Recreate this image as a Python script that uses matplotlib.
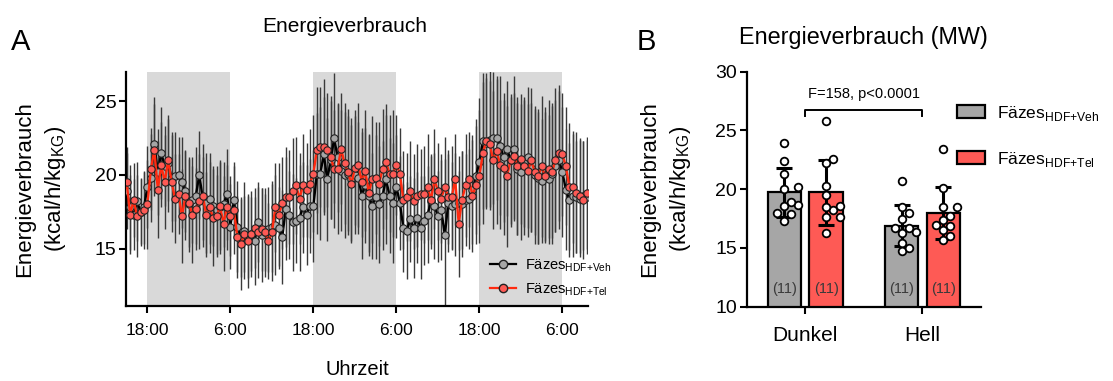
# ------------------------------------ #
# ENERGIEVERBRAUCH - TIME COURSE + MW  #
# ------------------------------------ #

import numpy as np
import matplotlib
matplotlib.use("Agg")
import matplotlib.pyplot as plt
from matplotlib.patches import Patch
from matplotlib.lines import Line2D

plt.rcParams["font.family"] = ["Liberation Sans", "DejaVu Sans"]
plt.rcParams["mathtext.fontset"] = "custom"
plt.rcParams["mathtext.rm"] = "Liberation Sans"

# ---- #
# DATA #
# ---- #

# panel A: sampling grid (hours, 18 = 18:00 of day 1), every 30 min
hours = np.arange(15.0, 82.0, 0.5)

veh_mean = [
    18.9, 17.8, 17.3, 18.2, 17.5, 17.8, 19.2, 19.8, 22.1, 20.2, 21.5, 20.6,
    20.8, 19.8, 19.9, 20.0, 19.5, 18.9, 18.0, 18.3, 18.6, 20.0, 18.4, 18.1,
    18.4, 17.9, 17.6, 17.8, 18.0, 18.7, 16.5, 18.3, 16.5, 15.8, 16.2, 15.8,
    16.0, 15.5, 16.8, 15.9, 16.1, 16.3, 16.5, 16.6, 16.4, 15.8, 17.7, 17.3,
    16.8, 16.9, 17.1, 17.8, 17.3, 17.9, 17.9, 20.1, 20.1, 21.4, 19.7, 21.0,
    22.5, 21.2, 20.3, 20.0, 20.1, 19.7, 20.0, 19.8, 18.6, 19.3, 18.6, 17.9,
    18.5, 18.0, 18.6, 19.7, 18.6, 18.1, 19.2, 18.1, 16.4, 16.2, 17.0, 16.4,
    17.1, 16.4, 16.9, 17.3, 18.2, 17.9, 17.2, 17.6, 15.9, 18.1, 17.9, 18.0,
    18.1, 18.0, 18.3, 18.4, 19.0, 19.9, 20.9, 22.3, 22.2, 22.4, 22.5, 22.5,
    22.0, 21.2, 21.8, 21.0, 21.8, 20.4, 20.2, 20.8, 21.2, 20.5, 20.0, 19.8,
    19.6, 20.0, 19.7, 20.1, 20.6, 21.0, 20.2, 19.0, 18.3, 18.6, 18.5, 18.4,
    18.6, 18.5,
]
veh_sd = [
    2.6, 2.9, 2.4, 2.7, 2.3, 2.5,
    2.8, 3.0, 3.2, 2.9, 3.1, 2.7, 3.3, 2.9, 3.0, 2.6, 3.1, 2.8,
    3.2, 2.9, 3.3, 3.0, 2.8, 3.4, 3.1, 2.7, 3.0, 3.2, 2.9, 3.1,
    2.9, 2.6, 3.1, 2.7, 3.3, 2.8, 2.5, 3.0, 2.7, 3.2, 2.6, 2.9,
    3.1, 3.4, 2.8, 3.2, 3.5, 3.0, 3.3, 2.9, 3.6, 3.1, 3.4, 3.2,
    3.8, 4.1, 4.5, 3.9, 4.2, 4.0, 4.4, 3.7, 4.1, 4.3, 3.9, 4.2,
    4.0, 3.8, 4.3, 3.9, 4.1, 3.6, 4.2, 4.0, 3.7, 4.4, 3.9, 4.1,
    3.5, 3.2, 3.0, 3.3, 2.9, 3.4, 3.1, 3.5, 3.0, 3.3, 3.2, 3.6,
    3.1, 3.4, 5.2, 3.3, 3.0, 3.5, 3.2, 3.6, 3.1, 3.4, 3.7, 3.9,
    4.3, 4.6, 4.4, 4.8, 4.5, 4.2, 4.7, 4.4, 4.6, 4.3, 4.9, 4.5,
    4.6, 4.3, 4.8, 4.4, 4.7, 4.5, 4.2, 4.6, 4.4, 4.8, 4.5, 4.7,
    4.4, 4.1, 3.9, 4.2, 3.8, 4.0, 3.7, 3.9,
]

tel_mean = [
    19.5, 17.3, 18.3, 17.2, 17.5, 17.6, 18.0, 20.4, 21.7, 19.0, 20.7, 19.5,
    21.0, 19.5, 18.4, 18.7, 17.2, 18.6, 18.1, 17.3, 17.7, 18.2, 18.6, 17.3,
    17.8, 17.1, 17.2, 17.9, 16.7, 17.8, 17.2, 17.6, 15.8, 15.3, 16.0, 15.5,
    16.0, 16.4, 16.1, 16.3, 16.1, 15.5, 16.1, 17.8, 17.3, 18.1, 18.5, 18.5,
    18.9, 19.3, 18.4, 19.3, 19.0, 19.4, 20.1, 21.7, 21.9, 21.9, 21.7, 21.2,
    20.4, 20.4, 21.8, 20.8, 20.2, 19.4, 20.5, 20.7, 19.5, 20.3, 18.8, 19.7,
    19.8, 19.4, 20.4, 20.9, 20.1, 20.1, 20.7, 20.1, 18.3, 18.5, 18.9, 18.2,
    18.6, 18.7, 18.7, 19.2, 18.3, 19.7, 18.9, 18.4, 19.2, 18.5, 18.5, 19.7,
    16.7, 18.3, 19.3, 19.7, 18.6, 19.3, 19.9, 21.5, 22.3, 22.1, 21.0, 21.6,
    20.7, 20.5, 19.9, 21.0, 21.3, 20.6, 21.1, 20.6, 20.3, 21.0, 20.2, 19.9,
    20.6, 19.9, 20.4, 20.2, 21.0, 21.5, 21.4, 20.6, 19.2, 19.2, 18.8, 18.6,
    18.3, 18.8,
]
tel_sd = [
    2.4, 2.7, 2.5, 2.8, 2.2, 2.6,
    3.0, 2.8, 3.1, 3.3, 2.9, 3.2, 2.8, 3.4, 3.0, 2.7, 3.2, 3.0,
    3.0, 3.3, 2.8, 3.2, 3.5, 2.9, 3.1, 3.3, 2.8, 3.0, 3.2, 2.9,
    2.7, 3.0, 2.8, 3.1, 2.6, 3.2, 2.9, 2.7, 3.1, 2.8, 3.0, 2.6,
    3.3, 3.0, 3.5, 3.1, 3.4, 3.2, 3.6, 3.3, 3.1, 3.5, 3.2, 3.7,
    4.0, 4.3, 4.1, 4.6, 3.9, 4.2, 4.0, 4.4, 3.8, 4.1, 4.3, 4.0,
    3.9, 4.2, 3.7, 4.1, 4.0, 4.3, 3.8, 4.2, 4.1, 3.9, 4.0, 4.3,
    3.4, 3.1, 3.3, 3.0, 3.4, 3.2, 3.5, 3.1, 3.3, 3.6, 3.0, 3.4,
    3.3, 3.0, 3.4, 3.2, 3.5, 3.1, 3.6, 3.3, 3.5, 3.2, 3.8, 4.0,
    4.5, 4.8, 4.6, 4.3, 4.7, 4.9, 4.4, 4.6, 4.8, 4.5, 4.3, 4.7,
    4.4, 4.7, 4.5, 4.9, 4.3, 4.6, 4.8, 4.4, 4.7, 4.5, 4.9, 4.6,
    4.2, 4.0, 4.3, 3.8, 4.1, 3.9, 4.0, 3.8,
]

dark_phases = [(18, 30), (42, 54), (66, 78)]
time_ticks = [18, 30, 42, 54, 66, 78]
time_labels = ["18:00", "6:00", "18:00", "6:00", "18:00", "6:00"]

# panel B: individual animals, mean energy expenditure
phases = ["Dunkel", "Hell"]
veh_points = [
    [23.9, 22.4, 21.3, 20.0, 20.2, 18.65, 18.6, 18.95, 17.9, 17.3, 17.95],
    [20.7, 18.5, 18.0, 17.45, 16.7, 16.3, 16.7, 15.45, 14.7, 15.0, 16.4],
]
tel_points = [
    [25.8, 22.55, 22.2, 20.3, 19.5, 18.2, 18.6, 18.5, 17.65, 17.65, 16.25],
    [23.4, 20.1, 18.5, 18.5, 17.75, 17.4, 16.95, 16.9, 16.5, 15.7, 16.0],
]
stat_text = "F=158, p<0.0001"

# "{+}" keeps mathtext from adding operator spacing
series_names = ["Fäzes$_{\\mathregular{HDF{+}Veh}}$", "Fäzes$_{\\mathregular{HDF{+}Tel}}$"]
ylab = "Energieverbrauch\n(kcal/h/kg$_{\\mathregular{KG}}$)"

GRAY = "#a6a6a6"
RED = "#fe5a55"
RED_LINE = "#ff2a10"


# --------- #
# FUNCTIONS #
# --------- #

def style_axis(ax):
    for s in ["top", "right"]:
        ax.spines[s].set_visible(False)
    for s in ["left", "bottom"]:
        ax.spines[s].set_linewidth(1.6)
    ax.tick_params(width=1.5, length=5, labelsize=14, pad=2)


def swarm_offsets(ax, xc, values, step_px=7.0, min_px=7.5):
    # simple beeswarm: place each point as close to centre as possible
    trans = ax.transData
    placed = []
    offs = np.zeros(len(values))
    px_per_x = trans.transform((1, 0))[0] - trans.transform((0, 0))[0]
    order = np.argsort(values)
    for i in order:
        yp = trans.transform((xc, values[i]))[1]
        for k in [0, 1, -1, 2, -2, 3, -3]:
            xp = k * step_px
            if all(np.hypot(xp - a, yp - b) >= min_px for a, b in placed):
                break
        placed.append((xp, yp))
        offs[i] = xp / px_per_x
    return offs


# ------ #
# FIGURE #
# ------ #

fig = plt.figure(figsize=(11.13, 3.81), dpi=100)

# --- panel A --- #
axA = fig.add_axes([0.1132, 0.1969, 0.4151, 0.6142])

for a, b in dark_phases:
    axA.axvspan(a, b, color="#d9d9d9", lw=0, zorder=0)

axA.errorbar(hours, veh_mean, yerr=veh_sd, fmt="none", ecolor="#3a3a3a",
             elinewidth=1.0, capsize=0, zorder=1)
axA.errorbar(hours, tel_mean, yerr=tel_sd, fmt="none", ecolor="#3a3a3a",
             elinewidth=1.0, capsize=0, zorder=1)
axA.plot(hours, veh_mean, color="black", lw=1.7, marker="o", ms=5.3,
         mfc=GRAY, mec="#222222", mew=0.8, zorder=3)
axA.plot(hours, tel_mean, color=RED_LINE, lw=1.7, marker="o", ms=5.3,
         mfc=RED, mec="#222222", mew=0.8, zorder=4)

axA.set_xlim(14.9, 81.7)
axA.set_ylim(11.1, 27.0)
axA.set_yticks([15, 20, 25])
axA.set_xticks(time_ticks)
axA.set_xticklabels(time_labels)
style_axis(axA)
axA.tick_params(axis="x", labelsize=12.5, pad=7)
axA.set_xlabel("Uhrzeit", fontsize=14.5, labelpad=16)
axA.set_ylabel(ylab, fontsize=16, linespacing=1.45, labelpad=19)
axA.set_title("Energieverbrauch", fontsize=15, pad=29, x=0.474)

handlesA = [
    Line2D([], [], color="black", lw=1.6, marker="o", ms=6, mfc=GRAY, mec="#222222"),
    Line2D([], [], color=RED_LINE, lw=1.6, marker="o", ms=6, mfc=RED, mec="#222222"),
]
axA.legend(handlesA, series_names, loc="lower right", bbox_to_anchor=(1.08, -0.02),
           frameon=False, fontsize=10.5, handlelength=1.8, handletextpad=0.6,
           labelspacing=0.45)

fig.text(0.010, 0.89, "A", fontsize=21, ha="left", va="center")

# --- panel B --- #
axB = fig.add_axes([0.6709, 0.195, 0.2105, 0.6168])
axB.set_xlim(-0.5, 1.5)
axB.set_ylim(10, 30)

x = np.arange(len(phases))
bw = 0.285
off = 0.178

for vals, xs, col in [(veh_points, x - off, GRAY), (tel_points, x + off, RED)]:
    means = [np.mean(v) for v in vals]
    sds = [np.std(v, ddof=1) for v in vals]
    axB.bar(xs, means, width=bw, color=col, edgecolor="black", lw=1.6, zorder=2)
    axB.errorbar(xs, means, yerr=sds, fmt="none", ecolor="black", elinewidth=2.2,
                 capsize=6, capthick=2.2, zorder=3)
    for xc, v in zip(xs, vals):
        dx = swarm_offsets(axB, xc, v)
        axB.plot(xc + dx, v, "o", ms=5.5, mfc="white", mec="black", mew=1.3,
                 zorder=4, clip_on=False)
        axB.text(xc, 11.5, f"({len(v)})", ha="center", va="center",
                 fontsize=10.5, color="#3a3a3a", zorder=5)

# bracket + stats
axB.plot([0, 0, 1, 1], [26.2, 26.75, 26.75, 26.2], color="black", lw=1.4)
axB.text(0.5, 28.1, stat_text, ha="center", va="center", fontsize=10.5)

axB.set_yticks([10, 15, 20, 25, 30])
axB.set_xticks(x)
axB.set_xticklabels(phases)
style_axis(axB)
axB.tick_params(axis="x", labelsize=15, pad=9)
axB.set_ylabel(ylab, fontsize=16, linespacing=1.45, labelpad=16)
axB.set_title("Energieverbrauch (MW)", fontsize=16.8, pad=20)

handlesB = [Patch(facecolor=GRAY, edgecolor="black", lw=1.6),
            Patch(facecolor=RED, edgecolor="black", lw=1.6)]
axB.legend(handlesB, series_names, loc="upper left", bbox_to_anchor=(0.83, 0.93),
           frameon=False, fontsize=12.5, handlelength=1.6, handleheight=0.75,
           handletextpad=0.7, labelspacing=1.55)

fig.text(0.572, 0.89, "B", fontsize=21, ha="left", va="center")

fig.savefig("out.png", dpi=100)
